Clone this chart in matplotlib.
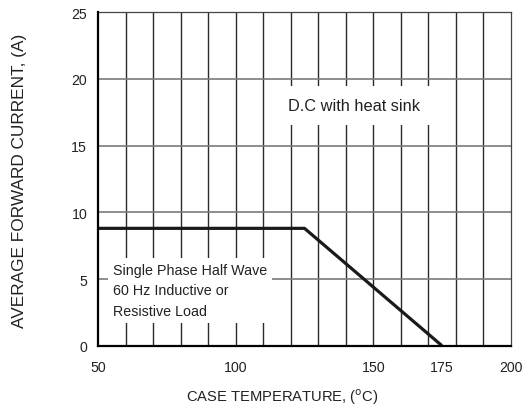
import matplotlib
matplotlib.use("Agg")
import matplotlib.pyplot as plt

REG = ['Liberation Sans', 'DejaVu Sans']

# Data
temps = [50, 125, 175]
current = [8.8, 8.8, 0]
xtick_vals = [50, 100, 150, 175, 200]
ytick_vals = [0, 5, 10, 15, 20, 25]
xgrid_vals = list(range(60, 200, 10))
ygrid_vals = [5, 10, 15, 20]

fig = plt.figure(figsize=(5.24, 4.10), dpi=100)
ax = fig.add_axes([98.3/524, (410-346.7)/410, (510.7-98.3)/524, (346.7-13.3)/410])

ax.set_xlim(50, 200)
ax.set_ylim(0, 25)

for xv in xgrid_vals:
    ax.axvline(xv, color='#2a2a2a', lw=1.0, zorder=1)
for yv in ygrid_vals:
    ax.axhline(yv, color='#7a7a7a', lw=1.2, zorder=1)

ax.plot(temps, current, color='#1a1a1a', lw=2.3, zorder=5, solid_capstyle='butt')

ax.text(143, 18.0, 'D.C with heat sink', ha='center', va='center',
        fontsize=11.8, family=REG, color='#222222', zorder=3,
        bbox=dict(facecolor='white', edgecolor='none', boxstyle='square,pad=0.75'))
ax.text(55.2, 4.14, 'Single Phase Half Wave\n60 Hz Inductive or\nResistive Load',
        ha='left', va='center', fontsize=10.3, family=REG, color='#222222',
        linespacing=1.62, zorder=3,
        bbox=dict(facecolor='white', edgecolor='none', boxstyle='square,pad=0.35'))

ax.set_xticks(xtick_vals)
ax.set_xticklabels([str(v) for v in xtick_vals], family=REG, fontsize=10.2, color='#222222')
ax.set_yticks(ytick_vals)
ax.set_yticklabels([str(v) for v in ytick_vals], family=REG, fontsize=10.2, color='#222222')
ax.tick_params(axis='x', length=0, pad=10)
ax.tick_params(axis='y', length=0, pad=8)

for s in ['left', 'bottom']:
    ax.spines[s].set_linewidth(1.6)
    ax.spines[s].set_color('black')
    ax.spines[s].set_zorder(6)
for s in ['top', 'right']:
    ax.spines[s].set_linewidth(0.9)
    ax.spines[s].set_color('#444444')

fig.text(282/524, 1 - 397/410, 'CASE TEMPERATURE, ($^{\\mathrm{o}}$C)', ha='center', va='center',
         fontsize=10.6, family=REG, color='#222222')
fig.text(20/524, 1 - 181/410, 'AVERAGE FORWARD CURRENT, (A)', ha='center', va='center',
         rotation=90, fontsize=12.4, family=REG, color='#222222')

fig.savefig('out.png', dpi=100)
